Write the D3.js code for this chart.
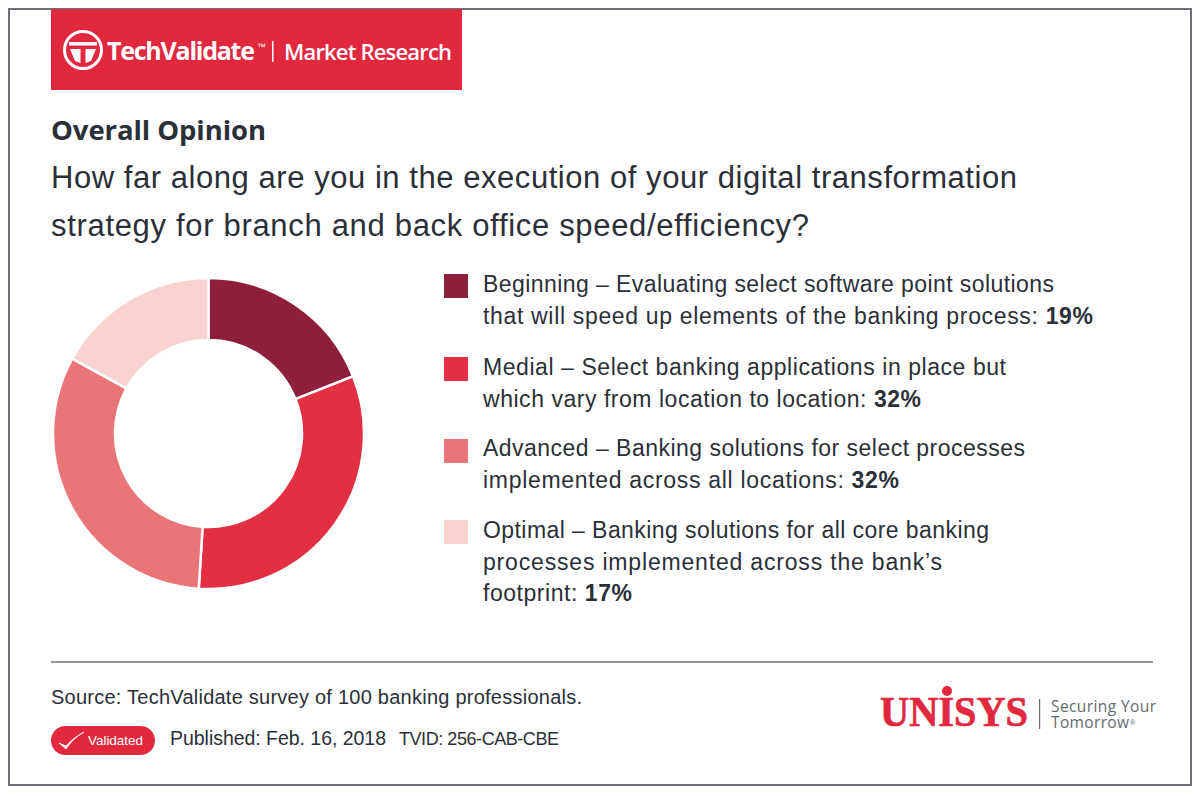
<!DOCTYPE html>
<head>
  <meta charset="utf-8">
  <title>Overall Opinion</title>
  <script src="https://cdnjs.cloudflare.com/ajax/libs/d3/7.8.5/d3.min.js"></script>
  <style>
    html, body { margin: 0; padding: 0; background: #fff; }
    svg { display: block; }
    text { font-family: "Liberation Sans", sans-serif; fill: #2b2f38; }
  </style>
</head>
<body>
<div id="chart"></div>
<script>
const categories = ['Beginning', 'Medial', 'Advanced', 'Optimal'];
const values = [19, 32, 32, 17];
const colors = ['#8e1f3c', '#e22f43', '#e97578', '#f8d3d0'];
// legend wording, one array per line break; the value goes after the last line
const legendLines = [
  ['Beginning – Evaluating select software point solutions', 'that will speed up elements of the banking process: '],
  ['Medial – Select banking applications in place but', 'which vary from location to location: '],
  ['Advanced – Banking solutions for select processes', 'implemented across all locations: '],
  ['Optimal – Banking solutions for all core banking', 'processes implemented across the bank’s', 'footprint: ']
];
const questionLines = [
  'How far along are you in the execution of your digital transformation',
  'strategy for branch and back office speed/efficiency?'
];

const width = 1200;
const height = 796;
const red = '#e1283f';

const svg = d3.select('#chart').append('svg')
  .attr('width', width)
  .attr('height', height);

// outer frame
svg.append('rect')
  .attr('x', 9).attr('y', 9)
  .attr('width', 1182).attr('height', 776)
  .attr('fill', '#fff')
  .attr('stroke', '#6d7076')
  .attr('stroke-width', 2);

// banner
svg.append('rect')
  .attr('x', 51).attr('y', 9)
  .attr('width', 411).attr('height', 81)
  .attr('fill', red);

const logo = svg.append('g').attr('transform', 'translate(83,50)');
logo.append('circle').attr('r', 18.5).attr('fill', 'none').attr('stroke', '#fff').attr('stroke-width', 3);
logo.append('path').attr('d', 'M-14,-8H14V-4.5H-14Z').attr('fill', '#fff');
logo.append('path').attr('d', 'M-13,-1H-2.5V13L-8,11Z').attr('fill', '#fff');
logo.append('path').attr('d', 'M13,-1H2.5V13L8,11Z').attr('fill', '#fff');

svg.append('text').attr('x', 107).attr('y', 60)
  .style('font-family', '"Open Sans"').style('font-size', '25px').style('font-weight', 700)
  .style('fill', '#fff').attr('textLength', 148).text('TechValidate');
svg.append('text').attr('x', 257).attr('y', 50)
  .style('font-size', '9px').style('fill', '#fff').text('™');
svg.append('rect').attr('x', 272).attr('y', 41).attr('width', 1.5).attr('height', 21).attr('fill', '#fff');
svg.append('text').attr('x', 284).attr('y', 59.5)
  .style('font-family', '"Open Sans"').style('font-size', '22px').style('font-weight', 600)
  .style('fill', '#fff').attr('textLength', 168).text('Market Research');

// headings
svg.append('text').attr('x', 51).attr('y', 140)
  .style('font-family', '"Open Sans"').style('font-size', '27.5px').style('font-weight', 700)
  .attr('textLength', 215).text('Overall Opinion');

svg.selectAll('.question')
  .data(questionLines)
  .enter()
  .append('text')
  .attr('class', 'question')
  .attr('x', 51)
  .attr('y', (d, i) => 187.5 + i * 48)
  .style('font-size', '31px')
  .attr('textLength', (d, i) => i === 0 ? 966 : 758)
  .text(d => d);

// donut
const pie = d3.pie().sort(null).value(d => d);
const arc = d3.arc().innerRadius(93.5).outerRadius(155.5);

svg.append('g')
  .attr('transform', 'translate(208.5,433.5)')
  .selectAll('path')
  .data(pie(values))
  .enter()
  .append('path')
  .attr('d', arc)
  .attr('fill', (d, i) => colors[i])
  .attr('stroke', '#fff')
  .attr('stroke-width', 2.5);

// legend
const legendTops = [274, 357, 439, 520];
const legendBaselines = [18, 18, 17, 18];
const legendWidths = [[571, 610], [523, 438], [542, 416], [506, 459, 149]];
const legend = svg.selectAll('.legend')
  .data(categories)
  .enter()
  .append('g')
  .attr('class', 'legend')
  .attr('transform', (d, i) => `translate(444,${legendTops[i]})`);

legend.append('rect')
  .attr('width', 24).attr('height', 24)
  .attr('fill', (d, i) => colors[i]);

legend.each(function (d, i) {
  const g = d3.select(this);
  legendLines[i].forEach((line, j) => {
    const t = g.append('text')
      .attr('x', 39)
      .attr('y', legendBaselines[i] + j * 31.7)
      .attr('textLength', legendWidths[i][j])
      .style('font-size', '23px')
      .style('white-space', 'pre');
    t.append('tspan').text(line);
    if (j === legendLines[i].length - 1) {
      t.append('tspan').style('font-weight', 700).text(values[i] + '%');
    }
  });
});

// rule + footer
svg.append('line')
  .attr('x1', 51).attr('x2', 1153)
  .attr('y1', 662).attr('y2', 662)
  .attr('stroke', '#6d7076').attr('stroke-width', 1.5);

svg.append('text').attr('x', 51).attr('y', 704)
  .style('font-size', '20px').attr('textLength', 531)
  .text('Source: TechValidate survey of 100 banking professionals.');

svg.append('rect')
  .attr('x', 51).attr('y', 726)
  .attr('width', 104).attr('height', 29).attr('rx', 14.5)
  .attr('fill', red);
svg.append('path')
  .attr('d', 'M59,743L66,749Q73,738 84,732Q74,737 66,746Z')
  .attr('fill', '#fff').attr('stroke', '#fff').attr('stroke-width', 0.8);
svg.append('text').attr('x', 88).attr('y', 745)
  .style('font-size', '13.5px').style('fill', '#fff').attr('textLength', 55).text('Validated');

svg.append('text').attr('x', 170).attr('y', 745)
  .style('font-size', '19.5px').attr('textLength', 216)
  .text('Published: Feb. 16, 2018');
svg.append('text').attr('x', 399).attr('y', 745)
  .style('font-size', '18px').attr('textLength', 160)
  .text('TVID: 256-CAB-CBE');

// sponsor logo
svg.append('text').attr('x', 880).attr('y', 726)
  .style('font-family', '"Liberation Serif"').style('font-size', '42px').style('font-weight', 700)
  .style('fill', red).style('stroke', red).style('stroke-width', 0.7)
  .attr('textLength', 148).attr('lengthAdjust', 'spacingAndGlyphs').text('UNISYS');
svg.append('circle').attr('cx', 947).attr('cy', 691).attr('r', 5).attr('fill', red);
svg.append('rect').attr('x', 1039).attr('y', 699).attr('width', 1.2).attr('height', 30).attr('fill', '#6d7076');
svg.append('text').attr('x', 1051).attr('y', 712)
  .style('font-family', '"Open Sans"').style('font-size', '15.5px').style('fill', '#666a70')
  .attr('textLength', 105).text('Securing Your');
svg.append('text').attr('x', 1051).attr('y', 728)
  .style('font-family', '"Open Sans"').style('font-size', '15.5px').style('fill', '#666a70')
  .attr('textLength', 78).text('Tomorrow');
svg.append('text').attr('x', 1130).attr('y', 725)
  .style('font-size', '7px').style('fill', '#666a70').text('®');
</script>
</body>
